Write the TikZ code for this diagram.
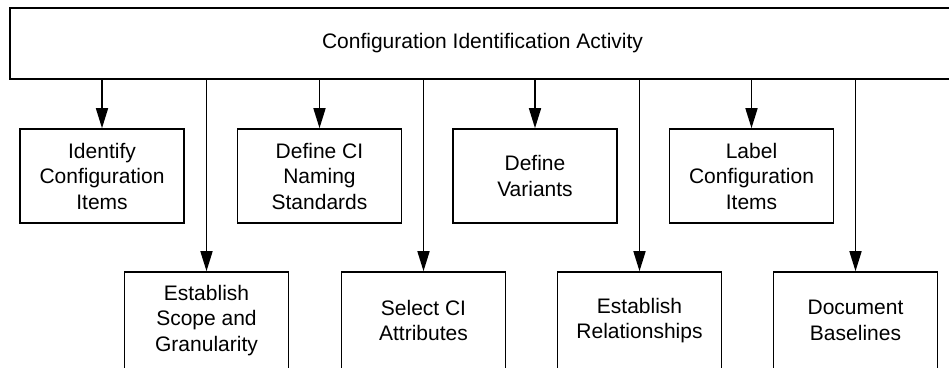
\documentclass[tikz,border=0pt]{standalone}
\usepackage{fontspec}
\setmainfont{Liberation Sans}
\usetikzlibrary{arrows.meta}
\begin{document}
\begin{tikzpicture}[x=1pt,y=-1pt,
  box/.style={draw, line width=1.6pt, minimum width=164pt, minimum height=94pt,
    inner sep=0pt, align=center, font=\fontsize{21}{25.5}\selectfont},
  arr/.style={line width=1.6pt, -{Triangle[length=20pt,width=12pt]}},
  link/.style={line width=1.6pt}]
\useasboundingbox (0,0) rectangle (949,367);
\clip (0,0) rectangle (949,367);
\fill[white] (0,0) rectangle (949,367);
\node[box, minimum width=945pt, minimum height=71pt] (top) at (482.5,43.5) {Configuration Identification Activity};
% upper row
\node[box] (b1) at (102,176) {Identify\\Configuration\\Items};
\node[box] (b2) at (319.5,176) {Define CI\\Naming\\Standards};
\node[box] (b3) at (535,176) {Define\\Variants};
\node[box] (b4) at (751.5,176) {Label\\Configuration\\Items};
% lower row
\node[box, minimum height=97pt] (b5) at (206.5,320.5) {Establish\\Scope and\\Granularity};
\node[box, minimum height=97pt] (b6) at (423.5,320.5) {Select CI\\Attributes};
\node[box, minimum height=97pt] (b7) at (639.5,320.5) {Establish\\Relationships};
\node[box, minimum height=97pt] (b8) at (855.5,320.5) {Document\\Baselines};
\foreach \b in {b1,b2,b3,b4,b5,b6,b7,b8}
  \draw[arr] (top.south -| \b.north) -- (\b.north);
\end{tikzpicture}
\end{document}
